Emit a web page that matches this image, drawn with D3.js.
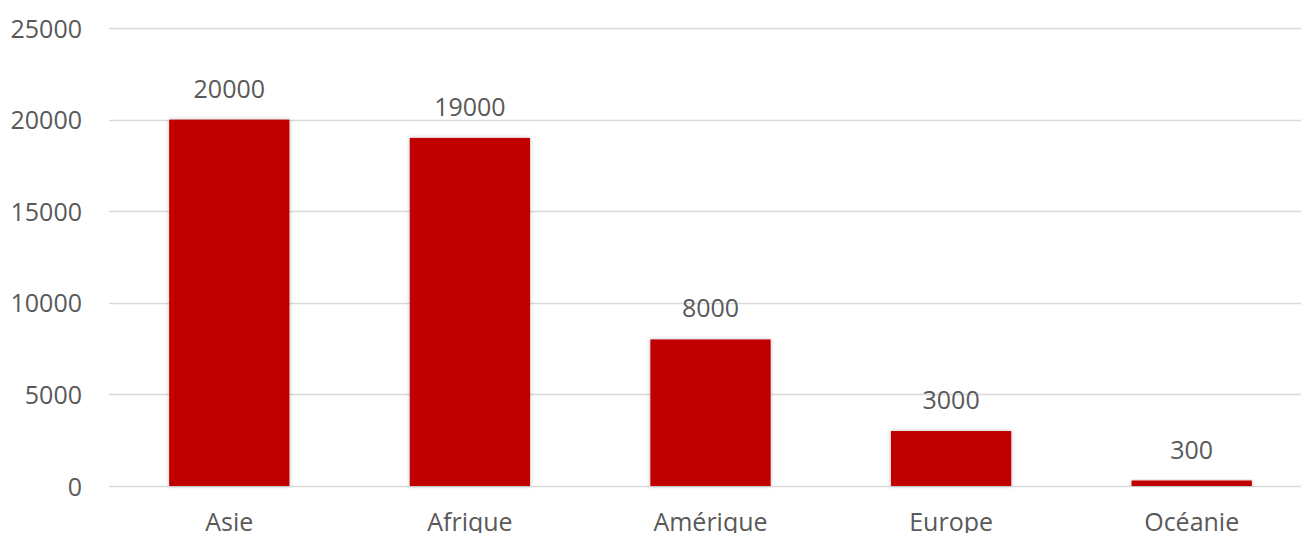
<!DOCTYPE html>
<meta charset="utf-8">
<script src="https://d3js.org/d3.v7.min.js"></script>
<style>
  body { margin: 0; background: #fff; }
  text { font-family: "Open Sans", "Noto Sans", sans-serif; }
</style>
<div id="chart"></div>
<script>

// data
var categories = ["Asie", "Afrique", "Amérique", "Europe", "Océanie"];
var values = [20000, 19000, 8000, 3000, 300];
var yTicks = [0, 5000, 10000, 15000, 20000, 25000];

var W = 1301, H = 533;
var margin = {top: 28, right: -11, bottom: 47, left: 109};
var width = W - margin.left - margin.right,
    height = H - margin.top - margin.bottom;

var svg = d3.select("#chart")
  .append("svg")
    .attr("width", W)
    .attr("height", H);

// soft shadow under the bars
var defs = svg.append("defs");
var f = defs.append("filter").attr("id", "shadow")
  .attr("x", "-10%").attr("y", "-10%").attr("width", "120%").attr("height", "120%");
f.append("feDropShadow")
  .attr("dx", 0).attr("dy", 0).attr("stdDeviation", 2)
  .attr("flood-color", "#000").attr("flood-opacity", 0.25);

var g = svg.append("g")
  .attr("transform", "translate(" + margin.left + "," + margin.top + ")");

var x = d3.scaleBand()
  .domain(categories)
  .range([0, width])
  .paddingInner(0.5)
  .paddingOuter(0.25);

var y = d3.scaleLinear()
  .domain([0, 25000])
  .range([height, 0]);

// grid lines
g.selectAll(".grid")
  .data(yTicks)
  .enter().append("line")
    .attr("class", "grid")
    .attr("x1", 0)
    .attr("x2", W - margin.left)
    .attr("y1", function(d) { return Math.round(y(d)) + 0.5; })
    .attr("y2", function(d) { return Math.round(y(d)) + 0.5; })
    .attr("stroke", "#d9d9d9")
    .attr("stroke-width", 1.3);

// y axis labels
var yAxis = g.append("g")
  .call(d3.axisLeft(y).tickValues(yTicks).tickFormat(d3.format("d")).tickSize(0).tickPadding(27));
yAxis.select(".domain").remove();
yAxis.selectAll("text")
  .attr("font-family", "Open Sans")
  .attr("font-size", 25)
  .attr("fill", "#595959")
  .attr("dy", "0.36em");

// x axis labels
var xAxis = g.append("g")
  .attr("transform", "translate(0," + height + ")")
  .call(d3.axisBottom(x).tickSize(0).tickPadding(27));
xAxis.select(".domain").remove();
xAxis.selectAll("text")
  .attr("font-family", "Open Sans")
  .attr("font-size", 25)
  .attr("fill", "#595959");

// bars
g.selectAll(".bar")
  .data(values)
  .enter().append("rect")
    .attr("class", "bar")
    .attr("x", function(d, i) { return x(categories[i]); })
    .attr("y", function(d) { return y(d); })
    .attr("width", x.bandwidth())
    .attr("height", function(d) { return height - y(d); })
    .attr("fill", "#c00000")
    .attr("filter", "url(#shadow)");

// value labels
g.selectAll(".label")
  .data(values)
  .enter().append("text")
    .attr("class", "label")
    .attr("x", function(d, i) { return x(categories[i]) + x.bandwidth() / 2; })
    .attr("y", function(d) { return y(d) - 22; })
    .attr("text-anchor", "middle")
    .attr("font-size", 25)
    .attr("fill", "#595959")
    .text(function(d) { return d; });

</script>
